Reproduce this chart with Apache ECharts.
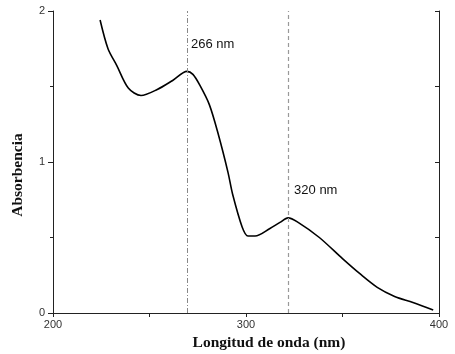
<!DOCTYPE html>
<html>
<head>
<meta charset="utf-8">
<script src="https://cdn.jsdelivr.net/npm/echarts@6/dist/echarts.min.js"></script>
<style>
  html, body { margin: 0; padding: 0; background: #fff; }
  #main { width: 455px; height: 354px; }
</style>
</head>
<body>
<div id="main"></div>
<script>
  // datos
  var wavelength = [224.4, 228.5, 233, 239, 245.6, 254, 262, 269.4, 272.5, 276, 281, 285.5, 290.7, 293, 298, 301, 304.7, 312.4, 317.6, 321.8, 327, 338, 350, 359, 368, 377, 386.5, 397];
  var absorbance = [1.94, 1.75, 1.64, 1.49, 1.44, 1.48, 1.54, 1.60, 1.58, 1.51, 1.38, 1.19, 0.93, 0.79, 0.57, 0.51, 0.51, 0.56, 0.60, 0.63, 0.60, 0.50, 0.36, 0.26, 0.17, 0.11, 0.07, 0.02];
  var peaks = [269.4, 321.8];
  var peakLabels = ['266 nm', '320 nm'];
  var peakLabelY = [1.78, 0.815];

  var myChart = echarts.init(document.getElementById('main'));
  var tickFont = { fontFamily: 'Liberation Sans', fontSize: 11, color: '#333' };

  var data = wavelength.map(function (w, i) { return [w, absorbance[i]]; });

  var option = {
    animation: false,
    grid: { left: 53, right: 16, top: 11, bottom: 41, outerBoundsMode: 'none' },
    xAxis: [
      {
        type: 'value', min: 200, max: 400, interval: 100, position: 'bottom',
        name: 'Longitud de onda (nm)', nameLocation: 'middle', nameGap: 19,
        nameTextStyle: { fontFamily: 'Liberation Serif', fontWeight: 'bold', fontSize: 15.5, color: '#111', padding: [0, 0, 0, 46] },
        axisLine: { lineStyle: { color: '#222', width: 1 } },
        axisTick: { inside: false, length: 4, lineStyle: { color: '#222' } },
        minorTick: { show: true, splitNumber: 2, length: 2, lineStyle: { color: '#222' } },
        axisLabel: Object.assign({ margin: 6 }, tickFont),
        splitLine: { show: false }
      },
      {
        type: 'value', min: 200, max: 400, interval: 50, position: 'top',
        axisLine: { lineStyle: { color: '#222', width: 1 } },
        axisTick: { inside: true, length: 4, lineStyle: { color: '#222' } },
        axisLabel: { show: false },
        splitLine: { show: false }
      }
    ],
    yAxis: [
      {
        type: 'value', min: 0, max: 2, interval: 1, position: 'left',
        name: 'Absorbencia', nameLocation: 'middle', nameGap: 27,
        nameTextStyle: { fontFamily: 'Liberation Serif', fontWeight: 'bold', fontSize: 15.5, color: '#111', padding: [0, 26, 0, 0] },
        axisLine: { show: true, lineStyle: { color: '#222', width: 1 } },
        axisTick: { show: true, length: 5, lineStyle: { color: '#222' } },
        minorTick: { show: true, splitNumber: 2, length: 3, lineStyle: { color: '#222' } },
        axisLabel: Object.assign({ margin: 8 }, tickFont),
        splitLine: { show: false }
      },
      {
        type: 'value', min: 0, max: 2, interval: 0.5, position: 'right',
        axisLine: { show: true, lineStyle: { color: '#222', width: 1 } },
        axisTick: { show: true, inside: true, length: 4, lineStyle: { color: '#222' } },
        axisLabel: { show: false },
        splitLine: { show: false }
      }
    ],
    series: [
      {
        type: 'line',
        data: data,
        symbol: 'none',
        smooth: 0.3,
        lineStyle: { color: '#000', width: 1.6 },
        markLine: {
          symbol: 'none',
          silent: true,
          label: { show: false },
          data: [
            { xAxis: peaks[0], lineStyle: { color: '#888', type: [5, 2, 1, 2], width: 1 } },
            { xAxis: peaks[1], lineStyle: { color: '#999', type: [4, 3], width: 1.2 } }
          ]
        },
        markPoint: {
          symbol: 'circle',
          symbolSize: 0,
          silent: true,
          label: {
            show: true, position: 'right', distance: 4,
            fontFamily: 'Liberation Sans', fontSize: 13, color: '#111',
            formatter: function (p) { return p.name; }
          },
          data: [
            { name: peakLabels[0], coord: [peaks[0], peakLabelY[0]] },
            { name: peakLabels[1], coord: [peaks[1], peakLabelY[1]], label: { distance: 6 } }
          ]
        }
      }
    ]
  };
  myChart.setOption(option);
</script>
</body>
</html>
